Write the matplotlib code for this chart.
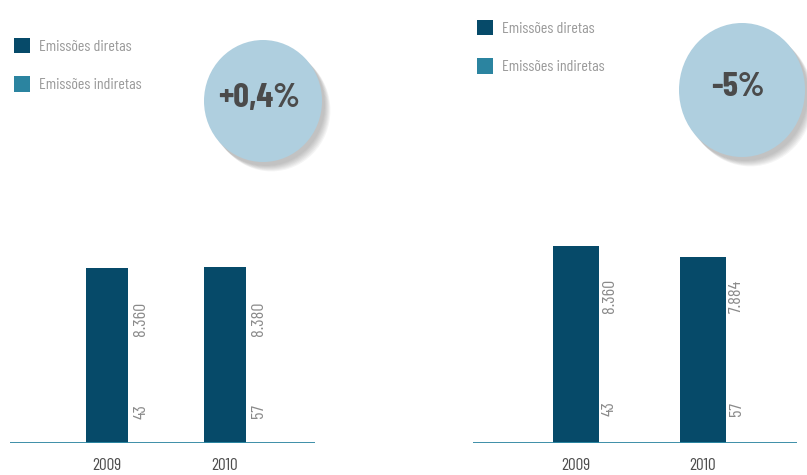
import matplotlib
matplotlib.use("Agg")
import matplotlib.pyplot as plt
import matplotlib.transforms as mtransforms
from matplotlib.patches import Ellipse

years = ["2009", "2010"]
# tCO2e per scenario (left: +0,4%, right: -5%)
direct_a = [8360, 8380]
indirect_a = [43, 57]
direct_b = [8360, 7884]
indirect_b = [43, 57]
change_a = "+0,4%"
change_b = "-5%"
legend_labels = ["Emissões diretas", "Emissões indiretas"]

DARK = "#064a69"
TEAL = "#2b84a0"
GRAY = "#8a8a8a"
CIRCLE = "#afcfdf"

plt.rcParams["font.family"] = ["Barlow Condensed", "DejaVu Sans"]

W, H = 807, 475
fig = plt.figure(figsize=(W / 100, H / 100), dpi=100)


def px_axes(x0, y0, x1, y1):
    # axes from a pixel box, origin at top-left
    return fig.add_axes([x0 / W, 1 - y1 / H, (x1 - x0) / W, (y1 - y0) / H])


def bars(ax, direct, indirect, xlim, ylim, width, lab_dx, lab_y):
    x = range(len(years))
    b1 = ax.bar(x, indirect, width, color=TEAL, zorder=2)
    b2 = ax.bar(x, direct, width, bottom=indirect, color=DARK, zorder=2)
    ax.axhline(0, color=TEAL, lw=2, zorder=3)
    ax.set_xlim(*xlim)
    ax.set_ylim(0, ylim)
    for s in ax.spines.values():
        s.set_visible(False)
    ax.set_yticks([])
    ax.set_xticks(list(x))
    ax.set_xticklabels(years, fontsize=12.5, color="#4d4d4d")
    ax.tick_params(axis="x", length=0, pad=11)
    trans = mtransforms.blended_transform_factory(ax.transData, ax.transAxes)
    for i in x:
        ax.text(i + lab_dx, lab_y[0], f"{direct[i]:,}".replace(",", "."),
                rotation=90, ha="center", va="center", fontsize=13,
                color=GRAY, transform=trans)
        ax.text(i + lab_dx, lab_y[1], str(indirect[i]),
                rotation=90, ha="center", va="center", fontsize=13,
                color=GRAY, transform=trans)
    return b2, b1


ax1 = px_axes(10, 200, 315, 443)
h1 = bars(ax1, direct_a, indirect_a, (-0.822, 1.763), 11650, 0.356, 0.288,
          (0.51, 0.13))
ax2 = px_axes(473, 200, 797, 443)
h2 = bars(ax2, direct_b, indirect_b, (-0.811, 1.740), 10370, 0.362, 0.262,
          (0.605, 0.14))

for ax, h, anchor in [(ax1, h1, (1, 25)), (ax2, h2, (464, 7))]:
    leg = ax.legend(h, legend_labels, loc="upper left",
                    bbox_to_anchor=(anchor[0] / W, 1 - anchor[1] / H),
                    bbox_transform=fig.transFigure, frameon=False,
                    handlelength=1.0, handleheight=1.1, handletextpad=0.6,
                    labelspacing=1.4, fontsize=11.5, borderpad=0.3)
    for t in leg.get_texts():
        t.set_color("#9a9a9a")

# pixel-space overlay for the percentage badges
ov = fig.add_axes([0, 0, 1, 1], zorder=-1)
ov.set_xlim(0, W)
ov.set_ylim(H, 0)
ov.axis("off")
for (cx, cy, rx, ry, txt) in [(263, 101, 59, 61, change_a), (742, 90, 63, 67, change_b)]:
    for k in range(7):
        ov.add_patch(Ellipse((cx + 3 + k * 0.9, cy + 4 + k * 0.9), 2 * rx, 2 * ry,
                             color="#555555", alpha=0.06, lw=0))
    ov.add_patch(Ellipse((cx, cy), 2 * rx, 2 * ry, color=CIRCLE, lw=0))
    ov.text(cx - 4, cy - 3, txt, ha="center", va="center", fontsize=25,
            fontweight="bold", color="#4b4b4b")

fig.savefig("out.png", dpi=100, facecolor="white")
